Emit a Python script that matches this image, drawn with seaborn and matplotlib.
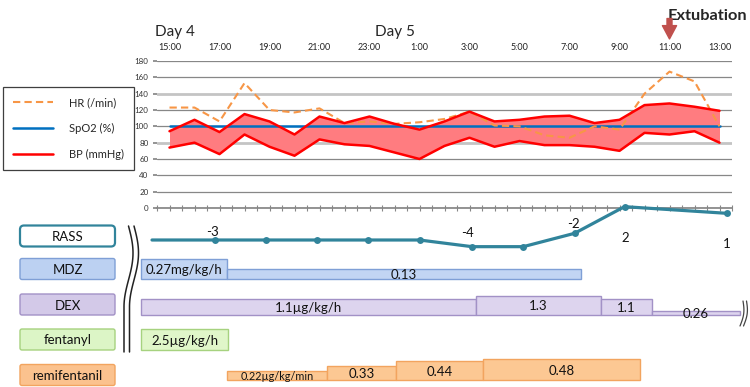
import numpy as np
import matplotlib
matplotlib.use("Agg")
import matplotlib.pyplot as plt
import matplotlib.transforms as mtransforms
import seaborn as sns
from matplotlib.lines import Line2D
from matplotlib.patches import FancyBboxPatch

# --- vitals, hourly from 15:00 (day 4) to 13:00 (day 5) ---
hours = ["15:00", "16:00", "17:00", "18:00", "19:00", "20:00", "21:00", "22:00",
         "23:00", "0:00", "1:00", "2:00", "3:00", "4:00", "5:00", "6:00", "7:00",
         "8:00", "9:00", "10:00", "11:00", "12:00", "13:00"]
hr = [123, 123, 106, 153, 120, 117, 122, 104, 106, 103, 105, 109, 118, 101,
      100, 89, 86, 100, 96, 140, 167, 155, 100]
spo2 = [100, 100, 100, 100, 100, 100, 100, 100, 100, 100, 100, 100, 100, 100,
        100, 100, 100, 100, 100, 100, 100, 100, 100]
bp_sys = [94, 108, 93, 115, 106, 90, 112, 104, 112, 103, 96, 106, 118, 106,
          108, 112, 113, 104, 108, 126, 128, 124, 119]
bp_dia = [74, 80, 66, 90, 75, 64, 84, 78, 76, 68, 60, 76, 86, 75,
          82, 77, 77, 75, 70, 92, 90, 94, 80]

# --- RASS (time = hours after 15:00) ---
rass_time = [-0.7, 1.8, 3.85, 5.9, 7.95, 10.0, 12.1, 14.15, 16.2, 18.2, 22.3]
rass_score = [-3, -3, -3, -3, -3, -3, -4, -4, -2, 2, 1]
rass_text = ["", "-3", "", "", "", "", "-4", "", "-2", "2", "1"]

# --- infusions: segment edges (hours after 15:00) and rates ---
mdz_edges = [-1.15, 2.3, 16.45]
mdz_rate = [0.27, 0.13]
mdz_text = ["0.27mg/kg/h", "0.13"]
dex_edges = [-1.15, 12.25, 17.25, 19.3, 22.8]
dex_rate = [1.1, 1.3, 1.1, 0.26]
dex_text = ["1.1\u00b5g/kg/h", "1.3", "1.1", "0.26"]
fent_edges = [-1.15, 2.35]
fent_rate = [2.5]
fent_text = ["2.5\u00b5g/kg/h"]
remi_edges = [2.3, 6.3, 9.05, 12.55, 18.8]
remi_rate = [0.22, 0.33, 0.44, 0.48]
remi_text = ["0.22\u00b5g/kg/min", "0.33", "0.44", "0.48"]

W, H = 750, 387
X0, PXH = 169.5, 25.0   # pixel of 15:00 and pixels per hour


def px2h(px):
    return (px - X0) / PXH


sns.set_theme(style="white")
plt.rcParams["font.family"] = ["Lato", "DejaVu Sans"]

fig = plt.figure(figsize=(W / 100, H / 100), dpi=100)
tpx = mtransforms.Affine2D().scale(1 / W, -1 / H).translate(0, 1) + fig.transFigure

# ---------------- vitals panel ----------------
ax = fig.add_axes([157 / W, 1 - 208 / H, 575 / W, 147 / H])
x = np.arange(len(hours))
ax.fill_between(x, bp_dia, bp_sys, color="#ff7c80", lw=0, zorder=2)
sns.lineplot(x=x, y=spo2, ax=ax, color="#0070c0", lw=1.8, zorder=3)
sns.lineplot(x=x, y=hr, ax=ax, color="#f79646", lw=1.5, zorder=4)
ax.lines[-1].set_dashes([3.5, 2])
sns.lineplot(x=x, y=bp_sys, ax=ax, color="#ff0000", lw=1.8, zorder=5)
sns.lineplot(x=x, y=bp_dia, ax=ax, color="#ff0000", lw=1.8, zorder=5)

ax.set_xlim(-0.5, 22.5)
ax.set_ylim(0, 180)
ax.set_yticks(range(0, 181, 20))
ax.yaxis.grid(True, color="#878787", lw=0.9)
ax.xaxis.grid(False)
for gl, v in zip(ax.get_ygridlines(), range(0, 181, 20)):
    if v in (80, 140):
        gl.set_color("#c4c4c4")
        gl.set_linewidth(2)
ax.set_axisbelow(True)
for s in ["left", "right", "top"]:
    ax.spines[s].set_visible(False)
ax.spines["bottom"].set_color("#878787")

ax.set_xticks(x[::2])
ax.set_xticklabels(hours[::2])
ax.set_xticks(np.arange(-0.5, 22.6, 0.5), minor=True)
ax.xaxis.remove_overlapping_locs = False
ax.tick_params(axis="x", which="major", bottom=False, labelbottom=False,
               top=True, labeltop=True, length=0, pad=6.5, labelsize=6.5, labelcolor="#222222")
ax.tick_params(axis="x", which="minor", bottom=True, top=False, length=4,
               direction="inout", color="#878787", width=0.8)
ax.tick_params(axis="y", left=True, length=3, color="#878787", pad=3,
               labelsize=5.8, labelcolor="#333333")
ax.set_xlabel("")
ax.set_ylabel("")

ax.text(-0.58, 216, "Day 4", ha="left", va="center", fontsize=11)
ax.text(9.0, 216, "Day 5", ha="center", va="center", fontsize=11)
ax.text(21.52, 235, "Extubation", ha="center", va="center", fontsize=11.8,
        fontweight="bold")
ax.annotate("", xy=(20, 207), xytext=(20, 232), xycoords="data",
            arrowprops=dict(arrowstyle="simple,head_length=0.8,head_width=0.85,tail_width=0.3",
                            color="#c0504d", mutation_scale=12, shrinkA=0, shrinkB=0),
            annotation_clip=False)

handles = [Line2D([0], [0], color="#f79646", lw=1.5, dashes=[3.5, 2]),
           Line2D([0], [0], color="#0070c0", lw=1.8),
           Line2D([0], [0], color="#ff0000", lw=1.8)]
leg = ax.legend(handles, ["HR (/min)", "SpO2 (%)", "BP (mmHg)"],
                loc="upper left", bbox_to_anchor=(3 / W, 1 - 87 / H),
                bbox_transform=fig.transFigure, fontsize=8, handlelength=3.6,
                handletextpad=1.4, labelspacing=1.35, borderpad=0.9,
                borderaxespad=0, frameon=True, fancybox=False, framealpha=1)
leg.get_frame().set_edgecolor("#3f3f3f")
leg.get_frame().set_linewidth(0.9)

# ---------------- RASS ----------------
axr = fig.add_axes([0, 1 - 250 / H, 1, 50 / H])
axr.set_xlim(px2h(0), px2h(W))
axr.set_ylim(-4.5, 3)
axr.axis("off")
sns.lineplot(x=rass_time, y=rass_score, ax=axr, color="#31849b", lw=2.3,
             marker="o", markersize=5, markeredgewidth=0,
             markevery=list(range(1, len(rass_time))))
rass_offsets = [(0, 0), (-2, -8), (0, 0), (0, 0), (0, 0), (0, 0), (-4, -14),
                (0, 0), (-1, -9), (1, 31), (0, 31)]
for t, s, lab, (dx, dy) in zip(rass_time, rass_score, rass_text, rass_offsets):
    if lab:
        axr.annotate(lab, (t, s), xytext=(dx * 0.72, -dy * 0.72),
                     textcoords="offset points", ha="center", va="center",
                     fontsize=9.5, color="#111111")

# ---------------- infusions ----------------
axb = fig.add_axes([0, 0, 1, 172 / H], zorder=-1)
axb.set_xlim(px2h(0), px2h(W))
axb.set_ylim(H, 215)
axb.axis("off")

drugs = [
    (mdz_edges, mdz_rate, mdz_text, dict(base=279, scale=74, face="#c2d5f3", edge="#7f9fd6", fs=[9.5, 9.5])),
    (dex_edges, dex_rate, dex_text, dict(base=314.5, scale=14.5, face="#ddd4ee", edge="#a291c6", fs=[9.5] * 4)),
    (fent_edges, fent_rate, fent_text, dict(base=350, scale=8.3, face="#e0f6c9", edge="#a6d27f", fs=[9.5])),
    (remi_edges, remi_rate, remi_text, dict(base=380, scale=43, face="#fcc893", edge="#f2a45f", fs=[7.8, 9.5, 9.5, 9.5])),
]
for edges, rate, text, st in drugs:
    left = np.array(edges[:-1])
    width = np.diff(edges)
    hgt = np.array(rate) * st["scale"]
    axb.bar(left, -hgt, width=width, bottom=st["base"], align="edge",
            color=st["face"], edgecolor=st["edge"], lw=1)
    for l, w, hh, lab, fs in zip(left, width, hgt, text, st["fs"]):
        axb.text(l + w / 2, st["base"] - hh / 2, lab, ha="center",
                 va="center_baseline", fontsize=fs, color="#111111")

# row label boxes
rows = [("RASS", 236, "white", "#31849b", 1.6, 4),
        ("MDZ", 269, "#bcd1f2", "#7f9fd6", 1, 2),
        ("DEX", 304.5, "#d3c9e8", "#a291c6", 1, 2),
        ("fentanyl", 339.5, "#dcf5c6", "#a6d27f", 1, 2),
        ("remifentanil", 375, "#fbc28e", "#f2a45f", 1, 2)]
for name, yc, face, edge, lw, rad in rows:
    fig.patches.append(FancyBboxPatch((20, yc - 10.5), 95, 21,
                                      boxstyle=f"round,pad=0,rounding_size={rad}",
                                      fc=face, ec=edge, lw=lw, transform=tpx,
                                      figure=fig))
    fig.text(67.5 / W, 1 - yc / H, name, ha="center", va="center_baseline",
             fontsize=9.5, color="#111111")

# break marks
yy = np.linspace(226, 352, 120)
xx = 128.5 + 4.5 * np.sin(2 * np.pi * np.minimum((yy - 226) / 108, 0.75))
for off in (0, 5.5):
    fig.lines.append(Line2D(xx + off, yy, color="#222222", lw=1.1, transform=tpx))
yy2 = np.linspace(301, 326, 40)
xx2 = 743 + 2.2 * np.sin(np.pi * (yy2 - 301) / 25) - 0.12 * (yy2 - 301)
for off in (0, 3.5):
    fig.lines.append(Line2D(xx2 + off, yy2, color="#444444", lw=0.9, transform=tpx))

fig.savefig("out.png", dpi=100)
